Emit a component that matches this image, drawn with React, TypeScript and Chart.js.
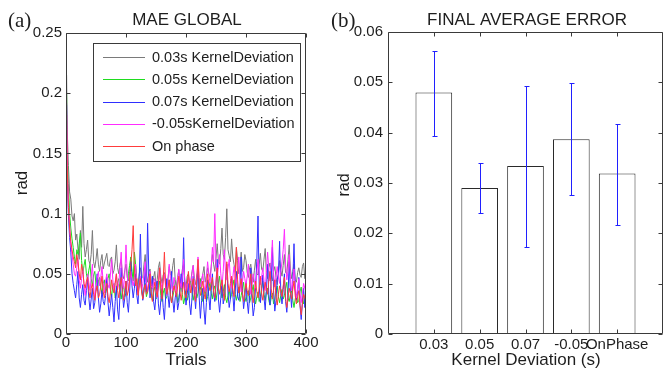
import React, { useEffect, useRef } from "react";
import { Chart, registerables } from "chart.js";

Chart.register(...registerables);

// ---------- Panel (a): MAE GLOBAL ----------
// one sample every 2 trials (first sample at trial 1)
const TRIALS = Array.from({ length: 201 }, (_, i) => (i === 0 ? 1 : i * 2));

const SERIES_LABELS = [
  "0.03s KernelDeviation",
  "0.05s KernelDeviation",
  "0.07s KernelDeviation",
  "-0.05sKernelDeviation",
  "On phase",
];
const SERIES_COLORS = ["#7a7a7a", "#1fdc1f", "#2f2fff", "#ff2cff", "#ff3c3c"];

const MAE_003 = [
  0.215, 0.17, 0.14, 0.118, 0.112, 0.098, 0.094, 0.1, 0.078, 0.083,
  0.07, 0.062, 0.086, 0.072, 0.106, 0.075, 0.064, 0.07, 0.078, 0.061,
  0.058, 0.066, 0.086, 0.06, 0.055, 0.062, 0.071, 0.058, 0.052, 0.061,
  0.066, 0.054, 0.059, 0.063, 0.067, 0.057, 0.056, 0.062, 0.064, 0.05,
  0.053, 0.06, 0.074, 0.055, 0.05, 0.058, 0.062, 0.049, 0.046, 0.053,
  0.058, 0.047, 0.044, 0.052, 0.061, 0.05, 0.048, 0.056, 0.057, 0.043,
  0.041, 0.05, 0.055, 0.046, 0.047, 0.058, 0.066, 0.049, 0.043, 0.051,
  0.054, 0.044, 0.038, 0.047, 0.052, 0.04, 0.045, 0.055, 0.06, 0.048,
  0.042, 0.049, 0.051, 0.043, 0.036, 0.046, 0.056, 0.05, 0.048, 0.057,
  0.063, 0.045, 0.04, 0.047, 0.053, 0.042, 0.046, 0.054, 0.058, 0.044,
  0.039, 0.048, 0.05, 0.041, 0.044, 0.052, 0.057, 0.046, 0.041, 0.049,
  0.052, 0.04, 0.037, 0.045, 0.05, 0.056, 0.043, 0.048, 0.055, 0.05,
  0.047, 0.056, 0.066, 0.058, 0.052, 0.063, 0.075, 0.06, 0.058, 0.071,
  0.088, 0.066, 0.062, 0.08, 0.104, 0.07, 0.065, 0.06, 0.079, 0.064,
  0.058, 0.052, 0.072, 0.061, 0.05, 0.057, 0.068, 0.052, 0.055, 0.066,
  0.061, 0.051, 0.047, 0.055, 0.058, 0.048, 0.043, 0.053, 0.062, 0.05,
  0.049, 0.058, 0.067, 0.054, 0.052, 0.062, 0.071, 0.05, 0.046, 0.055,
  0.059, 0.049, 0.044, 0.052, 0.056, 0.047, 0.041, 0.05, 0.061, 0.053,
  0.048, 0.057, 0.066, 0.051, 0.05, 0.062, 0.074, 0.054, 0.046, 0.052,
  0.058, 0.045, 0.043, 0.051, 0.055, 0.049, 0.047, 0.056, 0.059, 0.046,
  0.05,
];
const MAE_005 = [
  0.2, 0.15, 0.125, 0.1, 0.088, 0.079, 0.072, 0.064, 0.058, 0.07,
  0.066, 0.075, 0.084, 0.061, 0.05, 0.057, 0.062, 0.05, 0.045, 0.053,
  0.058, 0.046, 0.04, 0.049, 0.052, 0.041, 0.036, 0.044, 0.047, 0.039,
  0.033, 0.042, 0.045, 0.034, 0.038, 0.046, 0.05, 0.037, 0.031, 0.04,
  0.042, 0.03, 0.035, 0.043, 0.046, 0.036, 0.029, 0.037, 0.04, 0.031,
  0.034, 0.043, 0.05, 0.057, 0.064, 0.052, 0.044, 0.068, 0.058, 0.045,
  0.036, 0.041, 0.047, 0.037, 0.03, 0.038, 0.042, 0.031, 0.035, 0.041,
  0.048, 0.034, 0.028, 0.036, 0.039, 0.029, 0.033, 0.04, 0.044, 0.032,
  0.027, 0.034, 0.038, 0.029, 0.031, 0.04, 0.045, 0.033, 0.026, 0.031,
  0.036, 0.043, 0.04, 0.026, 0.03, 0.036, 0.042, 0.033, 0.025, 0.03,
  0.037, 0.028, 0.032, 0.039, 0.044, 0.035, 0.028, 0.034, 0.039, 0.03,
  0.034, 0.041, 0.046, 0.032, 0.027, 0.033, 0.038, 0.027, 0.031, 0.038,
  0.043, 0.034, 0.029, 0.037, 0.04, 0.028, 0.035, 0.042, 0.048, 0.036,
  0.03, 0.035, 0.041, 0.03, 0.026, 0.032, 0.037, 0.029, 0.033, 0.04,
  0.045, 0.033, 0.028, 0.034, 0.039, 0.027, 0.032, 0.038, 0.043, 0.031,
  0.027, 0.033, 0.036, 0.026, 0.03, 0.036, 0.041, 0.03, 0.025, 0.031,
  0.035, 0.027, 0.031, 0.038, 0.044, 0.033, 0.028, 0.035, 0.038, 0.028,
  0.024, 0.03, 0.034, 0.025, 0.029, 0.036, 0.04, 0.031, 0.026, 0.032,
  0.037, 0.029, 0.032, 0.038, 0.043, 0.03, 0.027, 0.033, 0.036, 0.028,
  0.022, 0.029, 0.033, 0.026, 0.028, 0.035, 0.039, 0.03, 0.025, 0.03,
  0.034,
];
const MAE_007 = [
  0.19, 0.13, 0.098, 0.08, 0.068, 0.05, 0.042, 0.036, 0.03, 0.041,
  0.052, 0.03, 0.022, 0.033, 0.041, 0.028, 0.024, 0.036, 0.045, 0.03,
  0.02, 0.029, 0.038, 0.021, 0.026, 0.039, 0.05, 0.03, 0.018, 0.025,
  0.036, 0.027, 0.024, 0.032, 0.047, 0.026, 0.015, 0.024, 0.033, 0.022,
  0.01, 0.027, 0.04, 0.02, 0.012, 0.033, 0.055, 0.035, 0.022, 0.03,
  0.044, 0.026, 0.018, 0.034, 0.06, 0.04, 0.03, 0.038, 0.05, 0.032,
  0.025, 0.045, 0.083, 0.04, 0.028, 0.036, 0.055, 0.035, 0.092, 0.05,
  0.03, 0.037, 0.048, 0.027, 0.02, 0.033, 0.044, 0.025, 0.016, 0.028,
  0.038, 0.022, 0.012, 0.03, 0.046, 0.032, 0.022, 0.035, 0.052, 0.028,
  0.018, 0.03, 0.036, 0.02, 0.026, 0.04, 0.05, 0.035, 0.08, 0.038,
  0.024, 0.033, 0.042, 0.025, 0.016, 0.03, 0.048, 0.034, 0.021, 0.037,
  0.056, 0.03, 0.013, 0.028, 0.038, 0.02, 0.008, 0.026, 0.045, 0.031,
  0.02, 0.036, 0.05, 0.033, 0.027, 0.041, 0.062, 0.029, 0.018, 0.03,
  0.044, 0.025, 0.03, 0.045, 0.058, 0.034, 0.022, 0.029, 0.047, 0.033,
  0.019, 0.035, 0.052, 0.031, 0.028, 0.04, 0.064, 0.036, 0.021, 0.03,
  0.043, 0.027, 0.017, 0.032, 0.055, 0.029, 0.015, 0.022, 0.04, 0.06,
  0.098, 0.04, 0.026, 0.035, 0.049, 0.03, 0.02, 0.037, 0.058, 0.033,
  0.024, 0.045, 0.072, 0.036, 0.019, 0.028, 0.045, 0.05, 0.077, 0.034,
  0.025, 0.037, 0.05, 0.027, 0.018, 0.032, 0.06, 0.035, 0.022, 0.044,
  0.075, 0.038, 0.028, 0.035, 0.047, 0.024, 0.012, 0.026, 0.038, 0.022,
  0.03,
];
const MAE_M005 = [
  0.192, 0.15, 0.11, 0.09, 0.074, 0.066, 0.058, 0.05, 0.048, 0.055,
  0.062, 0.045, 0.038, 0.046, 0.055, 0.04, 0.032, 0.041, 0.05, 0.043,
  0.036, 0.047, 0.058, 0.039, 0.03, 0.038, 0.046, 0.052, 0.04, 0.047,
  0.056, 0.042, 0.034, 0.044, 0.05, 0.041, 0.038, 0.049, 0.062, 0.045,
  0.035, 0.043, 0.05, 0.037, 0.042, 0.055, 0.068, 0.046, 0.038, 0.05,
  0.074, 0.05, 0.036, 0.044, 0.052, 0.045, 0.04, 0.047, 0.058, 0.04,
  0.033, 0.041, 0.048, 0.036, 0.042, 0.05, 0.06, 0.043, 0.035, 0.045,
  0.052, 0.04, 0.038, 0.043, 0.046, 0.035, 0.03, 0.042, 0.055, 0.044,
  0.037, 0.044, 0.05, 0.039, 0.032, 0.045, 0.058, 0.046, 0.04, 0.036,
  0.047, 0.041, 0.034, 0.046, 0.054, 0.043, 0.038, 0.05, 0.062, 0.044,
  0.036, 0.042, 0.048, 0.036, 0.041, 0.05, 0.057, 0.04, 0.033, 0.048,
  0.064, 0.047, 0.039, 0.044, 0.05, 0.04, 0.035, 0.047, 0.06, 0.05,
  0.042, 0.055, 0.072, 0.06, 0.1, 0.058, 0.048, 0.055, 0.066, 0.05,
  0.04, 0.052, 0.07, 0.05, 0.045, 0.054, 0.062, 0.046, 0.038, 0.047,
  0.056, 0.048, 0.042, 0.05, 0.064, 0.045, 0.035, 0.043, 0.052, 0.046,
  0.04, 0.048, 0.058, 0.042, 0.033, 0.04, 0.05, 0.044, 0.038, 0.05,
  0.062, 0.05, 0.041, 0.047, 0.055, 0.044, 0.036, 0.052, 0.068, 0.054,
  0.044, 0.06, 0.078, 0.05, 0.039, 0.047, 0.056, 0.048, 0.042, 0.052,
  0.06, 0.07, 0.087, 0.058, 0.045, 0.052, 0.066, 0.048, 0.036, 0.043,
  0.054, 0.04, 0.03, 0.038, 0.046, 0.034, 0.026, 0.033, 0.042, 0.038,
  0.035,
];
const MAE_ONPHASE = [
  0.182, 0.14, 0.105, 0.088, 0.077, 0.07, 0.064, 0.06, 0.055, 0.066,
  0.06, 0.05, 0.045, 0.058, 0.052, 0.042, 0.038, 0.044, 0.047, 0.036,
  0.03, 0.038, 0.042, 0.033, 0.028, 0.036, 0.04, 0.03, 0.033, 0.04,
  0.048, 0.035, 0.03, 0.037, 0.042, 0.031, 0.026, 0.034, 0.045, 0.038,
  0.034, 0.042, 0.05, 0.036, 0.03, 0.039, 0.047, 0.035, 0.028, 0.036,
  0.044, 0.032, 0.036, 0.045, 0.058, 0.07, 0.09, 0.055, 0.04, 0.046,
  0.032, 0.04, 0.046, 0.035, 0.029, 0.037, 0.041, 0.033, 0.036, 0.042,
  0.05, 0.034, 0.027, 0.035, 0.043, 0.036, 0.031, 0.04, 0.055, 0.038,
  0.029, 0.045, 0.068, 0.04, 0.033, 0.038, 0.045, 0.032, 0.026, 0.034,
  0.04, 0.036, 0.031, 0.039, 0.048, 0.035, 0.028, 0.036, 0.043, 0.033,
  0.03, 0.041, 0.052, 0.04, 0.034, 0.04, 0.046, 0.033, 0.027, 0.045,
  0.062, 0.04, 0.032, 0.038, 0.044, 0.034, 0.029, 0.038, 0.05, 0.04,
  0.036, 0.041, 0.047, 0.035, 0.03, 0.043, 0.055, 0.038, 0.033, 0.04,
  0.045, 0.034, 0.028, 0.044, 0.06, 0.042, 0.035, 0.042, 0.048, 0.037,
  0.031, 0.05, 0.072, 0.045, 0.034, 0.04, 0.046, 0.033, 0.027, 0.035,
  0.042, 0.036, 0.032, 0.041, 0.05, 0.034, 0.026, 0.035, 0.044, 0.035,
  0.03, 0.039, 0.048, 0.034, 0.028, 0.036, 0.043, 0.038, 0.033, 0.044,
  0.052, 0.038, 0.029, 0.037, 0.045, 0.031, 0.024, 0.033, 0.04, 0.035,
  0.031, 0.04, 0.047, 0.03, 0.022, 0.03, 0.038, 0.034, 0.029, 0.037,
  0.044, 0.032, 0.025, 0.031, 0.036, 0.024, 0.016, 0.025, 0.033, 0.03,
  0.027,
];
const MAE_SERIES = [MAE_003, MAE_005, MAE_007, MAE_M005, MAE_ONPHASE];
const LEFT_X_TICKS = [0, 100, 200, 300, 400];
const LEFT_Y_TICKS = [0, 0.05, 0.1, 0.15, 0.2, 0.25];

// ---------- Panel (b): FINAL AVERAGE ERROR ----------
const BAR_CATEGORIES = ["0.03", "0.05", "0.07", "-0.05", "OnPhase"];
const BAR_MEANS = [0.048, 0.029, 0.0334, 0.0387, 0.0319];
const ERR_LOW = [0.0393, 0.024, 0.0172, 0.0276, 0.0217];
const ERR_HIGH = [0.0563, 0.034, 0.0493, 0.0498, 0.0417];
const RIGHT_Y_TICKS = [0, 0.01, 0.02, 0.03, 0.04, 0.05, 0.06];

const SANS = "'Liberation Sans', Arial, sans-serif";
const SERIF = "'Liberation Serif', 'Times New Roman', serif";
const TEXT = "#1e1e1e";
const FRAME = "#3a3a3a";
const ERR_COLOR = "#2020ff";

const fmt = (v: any) => String(+Number(v).toFixed(4));

const framePlugin = {
  id: "matlabFrame",
  afterDraw(chart: any, _a: any, opts: any) {
    const { ctx, chartArea } = chart;
    const { left, right, top, bottom } = chartArea;
    const xs = chart.scales.x;
    const ys = chart.scales.y;
    const L = 4;
    ctx.save();
    ctx.strokeStyle = FRAME;
    ctx.lineWidth = 1;
    const l = Math.round(left) + 0.5;
    const r = Math.round(right) - 0.5;
    const t = Math.round(top) + 0.5;
    const b = Math.round(bottom) - 0.5;
    ctx.beginPath();
    ctx.rect(l, t, r - l, b - t);
    for (const v of opts.xTicks || []) {
      const px = Math.round(xs.getPixelForValue(v)) + 0.5;
      ctx.moveTo(px, b);
      ctx.lineTo(px, b - L);
      ctx.moveTo(px, t);
      ctx.lineTo(px, t + L);
    }
    for (const v of opts.yTicks || []) {
      const py = Math.round(ys.getPixelForValue(v)) + 0.5;
      ctx.moveTo(l, py);
      ctx.lineTo(l + L, py);
      ctx.moveTo(r, py);
      ctx.lineTo(r - L, py);
    }
    ctx.stroke();
    ctx.restore();
  },
};

const textPlugin = {
  id: "panelText",
  afterDraw(chart: any, _a: any, opts: any) {
    const ctx = chart.ctx;
    for (const it of opts.items || []) {
      ctx.save();
      ctx.font = it.font;
      ctx.fillStyle = TEXT;
      ctx.textAlign = it.align || "center";
      ctx.textBaseline = "middle";
      ctx.translate(it.x, it.y);
      if (it.rotate) ctx.rotate(it.rotate);
      ctx.fillText(it.text, 0, 0);
      ctx.restore();
    }
  },
};

const insideLegend = {
  id: "insideLegend",
  afterDatasetsDraw(chart: any) {
    const { ctx, chartArea } = chart;
    const x0 = Math.round(chartArea.left) + 27;
    const y0 = Math.round(chartArea.top) + 10;
    const x1 = Math.round(chartArea.right) - 6;
    const rowH = 22.3;
    const n = chart.data.datasets.length;
    const h = Math.round(rowH * n + 6);
    ctx.save();
    ctx.fillStyle = "#ffffff";
    ctx.fillRect(x0, y0, x1 - x0, h);
    ctx.strokeStyle = FRAME;
    ctx.lineWidth = 1;
    ctx.strokeRect(x0 + 0.5, y0 + 0.5, x1 - x0, h);
    ctx.font = `14.5px ${SANS}`;
    ctx.textAlign = "left";
    ctx.textBaseline = "middle";
    chart.data.datasets.forEach((ds: any, i: number) => {
      const cy = y0 + 14 + i * rowH;
      const ly = Math.round(cy) + 0.5;
      ctx.strokeStyle = SERIES_COLORS[i];
      ctx.lineWidth = 1;
      ctx.beginPath();
      ctx.moveTo(x0 + 10, ly);
      ctx.lineTo(x0 + 52, ly);
      ctx.stroke();
      ctx.fillStyle = TEXT;
      ctx.fillText(ds.label, x0 + 59, cy + 0.5);
    });
    ctx.restore();
  },
};

const errorBars = {
  id: "errorBars",
  afterDatasetsDraw(chart: any) {
    const { ctx } = chart;
    const meta = chart.getDatasetMeta(0);
    const ys = chart.scales.y;
    BAR_CATEGORIES.forEach((_c, i) => {
      const el = meta.data[i + 1];
      if (!el) return;
      const x = Math.round(el.x) + 0.5;
      const yHi = Math.round(ys.getPixelForValue(ERR_HIGH[i])) + 0.5;
      const yLo = Math.round(ys.getPixelForValue(ERR_LOW[i])) + 0.5;
      ctx.save();
      ctx.strokeStyle = ERR_COLOR;
      ctx.lineWidth = 1;
      ctx.beginPath();
      ctx.moveTo(x, yHi);
      ctx.lineTo(x, yLo);
      ctx.moveTo(x - 2, yHi);
      ctx.lineTo(x + 3, yHi);
      ctx.moveTo(x - 2, yLo);
      ctx.lineTo(x + 3, yLo);
      ctx.stroke();
      ctx.restore();
    });
  },
};

function LeftPanel() {
  const ref = useRef<HTMLCanvasElement | null>(null);
  useEffect(() => {
    if (!ref.current) return;
    const chart = new Chart(ref.current, {
      type: "line",
      data: {
        datasets: MAE_SERIES.map((vals, si) => ({
          label: SERIES_LABELS[si],
          data: vals.map((v, i) => ({ x: TRIALS[i], y: v })),
          borderColor: SERIES_COLORS[si],
          backgroundColor: SERIES_COLORS[si],
          borderWidth: 1,
          pointRadius: 0,
          tension: 0,
          order: MAE_SERIES.length - si,
        })),
      },
      options: {
        animation: false,
        responsive: false,
        devicePixelRatio: 1,
        layout: { padding: { left: 0, right: 24, top: 33, bottom: 0 } },
        plugins: {
          legend: { display: false },
          tooltip: { enabled: false },
          matlabFrame: { xTicks: LEFT_X_TICKS, yTicks: LEFT_Y_TICKS },
          panelText: {
            items: [
              { text: "(a)", x: 8, y: 21, font: `21px ${SERIF}`, align: "left" },
              { text: "MAE GLOBAL", x: 187, y: 20, font: `17px ${SANS}` },
              { text: "Trials", x: 186, y: 360, font: `17px ${SANS}` },
              { text: "rad", x: 22, y: 183, font: `17px ${SANS}`, rotate: -Math.PI / 2 },
            ],
          },
        } as any,
        scales: {
          x: {
            type: "linear",
            min: 0,
            max: 400,
            afterFit: (s: any) => { s.height = 36; },
            afterBuildTicks: (s: any) => { s.ticks = LEFT_X_TICKS.map((v) => ({ value: v })); },
            grid: { display: false, drawTicks: false },
            border: { display: false },
            ticks: { padding: 0, color: TEXT, font: { family: SANS, size: 15 }, callback: fmt, maxRotation: 0 },
          },
          y: {
            type: "linear",
            min: 0,
            max: 0.25,
            afterFit: (s: any) => { s.width = 66; },
            afterBuildTicks: (s: any) => { s.ticks = LEFT_Y_TICKS.map((v) => ({ value: v })); },
            grid: { display: false, drawTicks: false },
            border: { display: false },
            ticks: { padding: 4, color: TEXT, font: { family: SANS, size: 15 }, callback: fmt },
          },
        },
      },
      plugins: [insideLegend, framePlugin, textPlugin],
    });
    return () => chart.destroy();
  }, []);
  return (
    <canvas
      ref={ref}
      width={330}
      height={370}
      style={{ position: "absolute", left: 0, top: 0, width: 330, height: 370, display: "block" }}
    />
  );
}

function RightPanel() {
  const ref = useRef<HTMLCanvasElement | null>(null);
  useEffect(() => {
    if (!ref.current) return;
    const labels = ["", ...BAR_CATEGORIES, ""];
    const chart = new Chart(ref.current, {
      type: "bar",
      data: {
        labels,
        datasets: [
          {
            label: "Final average error",
            data: [null, ...BAR_MEANS, null] as any,
            backgroundColor: "#ffffff",
            borderColor: "#2a2a2a",
            borderWidth: 1,
            borderSkipped: false,
            barPercentage: 0.8,
            categoryPercentage: 1,
          },
        ],
      },
      options: {
        animation: false,
        responsive: false,
        devicePixelRatio: 1,
        layout: { padding: { left: 0, right: 1, top: 32, bottom: 0 } },
        plugins: {
          legend: { display: false },
          tooltip: { enabled: false },
          matlabFrame: { xTicks: [1, 2, 3, 4, 5], yTicks: RIGHT_Y_TICKS },
          panelText: {
            items: [
              { text: "(b)", x: 1, y: 21, font: `21px ${SERIF}`, align: "left" },
              { text: "FINAL AVERAGE ERROR", x: 197, y: 20, font: `17px ${SANS}` },
              { text: "Kernel Deviation (s)", x: 196, y: 360, font: `17px ${SANS}` },
              { text: "rad", x: 15, y: 185, font: `16px ${SANS}`, rotate: -Math.PI / 2 },
            ],
          },
        } as any,
        scales: {
          x: {
            type: "category",
            offset: false,
            afterFit: (s: any) => { s.height = 36; },
            grid: { display: false, drawTicks: false },
            border: { display: false },
            ticks: { padding: 2, color: TEXT, font: { family: SANS, size: 15 }, autoSkip: false, maxRotation: 0 },
          },
          y: {
            type: "linear",
            min: 0,
            max: 0.06,
            afterFit: (s: any) => { s.width = 58; },
            afterBuildTicks: (s: any) => { s.ticks = RIGHT_Y_TICKS.map((v) => ({ value: v })); },
            grid: { display: false, drawTicks: false },
            border: { display: false },
            ticks: { padding: 5, color: TEXT, font: { family: SANS, size: 15 }, callback: fmt },
          },
        },
      },
      plugins: [errorBars, framePlugin, textPlugin],
    });
    return () => chart.destroy();
  }, []);
  return (
    <canvas
      ref={ref}
      width={335}
      height={370}
      style={{ position: "absolute", left: 330, top: 0, width: 335, height: 370, display: "block" }}
    />
  );
}

export default function App() {
  return (
    <div style={{ position: "absolute", left: 0, top: 0, width: 665, height: 370, background: "#ffffff", overflow: "hidden" }}>
      <LeftPanel />
      <RightPanel />
    </div>
  );
}
